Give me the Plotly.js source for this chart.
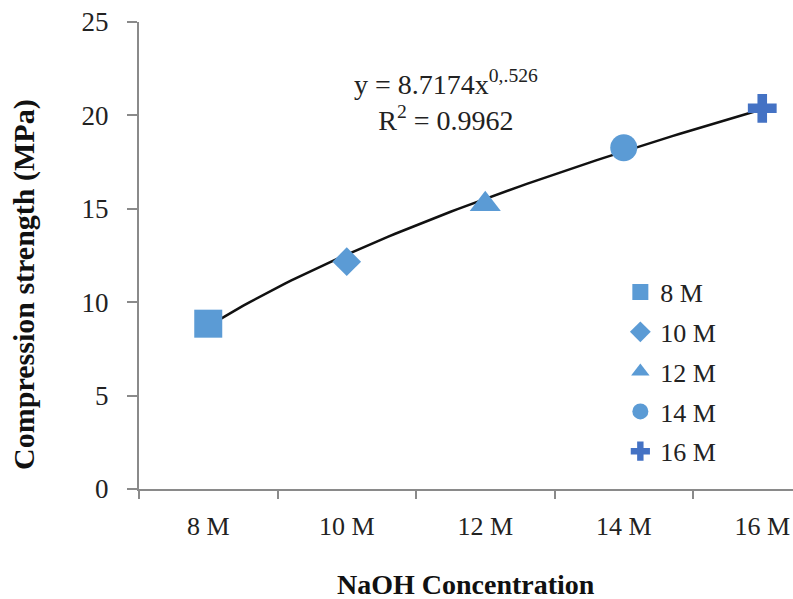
<!DOCTYPE html>
<html>
<head>
<meta charset="utf-8">
<script src="https://cdn.plot.ly/plotly-3.0.1.min.js"></script>
<style>html,body{margin:0;padding:0;background:#fff;}#chart{width:793px;height:599px;}</style>
</head>
<body>
<div id="chart"></div>
<script>
// Data
var categories = ["8 M", "10 M", "12 M", "14 M", "16 M"];
var positions = [1, 2, 3, 4, 5];
var strength = [8.85, 12.17, 15.25, 18.27, 20.38];
var symbols = ["square", "diamond", "triangle-up", "circle", "cross"];
var markerSizes = [28, 22, 27, 27, 24];
var markerColors = ["#5B9BD5", "#5B9BD5", "#5B9BD5", "#5B9BD5", "#4472C4"];
var yTicks = [0, 5, 10, 15, 20, 25];
// Power trendline coefficients shown on the chart: y = a * x^b
var trendA = 8.7174;
var trendB = 0.526;

var serif = "Liberation Serif, Times New Roman, serif";
var traces = [];

// trendline
var tx = [], ty = [];
for (var i = 0; i <= 80; i++) {
  var xv = positions[0] + (positions[positions.length - 1] - positions[0]) * i / 80;
  tx.push(xv);
  ty.push(trendA * Math.pow(xv, trendB));
}
traces.push({x: tx, y: ty, mode: "lines", line: {color: "#111", width: 2.5}, showlegend: false, hoverinfo: "skip"});

for (var k = 0; k < categories.length; k++) {
  traces.push({
    x: [positions[k]], y: [strength[k]], mode: "markers", name: categories[k],
    legendgroup: "g" + k,
    marker: {symbol: symbols[k], size: markerSizes[k], color: markerColors[k]}
  });
}

var axisColor = "#8a8a8a";
var layout = {
  width: 793, height: 599,
  margin: {l: 139, r: 0, t: 22, b: 110},
  paper_bgcolor: "#fff", plot_bgcolor: "#fff",
  font: {family: serif, color: "#222", size: 26},
  showlegend: true,
  legend: {x: 0.736, y: 0.472, xanchor: "left", yanchor: "top", font: {family: serif, size: 26, color: "#222"}, bgcolor: "rgba(0,0,0,0)", tracegroupgap: 3},
  xaxis: {
    range: [0.5, 5.222], showgrid: false, zeroline: false,
    showline: true, linecolor: axisColor, linewidth: 2,
    tickmode: "array", tickvals: positions, ticktext: categories,
    ticks: "", ticklabelstandoff: 13,
    tickfont: {family: serif, size: 26, color: "#222"},
    minor: {ticks: "outside", tick0: 0.5, dtick: 1, ticklen: 8, tickwidth: 2, tickcolor: axisColor, showgrid: false}
  },
  yaxis: {
    range: [0, 25], showgrid: false, zeroline: false,
    showline: true, linecolor: axisColor, linewidth: 2,
    tickmode: "array", tickvals: yTicks,
    ticks: "outside", ticklen: 10, tickwidth: 2, tickcolor: axisColor,
    ticklabelstandoff: 13,
    tickfont: {family: serif, size: 27, color: "#222"}
  },
  annotations: [
    {xref: "paper", yref: "paper", x: 0.469, y: 0.831, xanchor: "center", yanchor: "middle", showarrow: false,
     text: "y = 8.7174x<sup>0,.526</sup><br>R<sup>2</sup> = 0.9962", font: {family: serif, size: 28, color: "#222"}},
    {xref: "paper", yref: "paper", x: -0.176, y: 0.439, xanchor: "center", yanchor: "middle", showarrow: false,
     textangle: -90, text: "<b>Compression strength (MPa)</b>", font: {family: serif, size: 30, color: "#111"}},
    {xref: "paper", yref: "paper", x: 0.5, y: -0.205, xanchor: "center", yanchor: "middle", showarrow: false,
     text: "<b>NaOH Concentration</b>", font: {family: serif, size: 28, color: "#111"}}
  ]
};

Plotly.newPlot("chart", traces, layout, {displayModeBar: false, staticPlot: true});
</script>
</body>
</html>
